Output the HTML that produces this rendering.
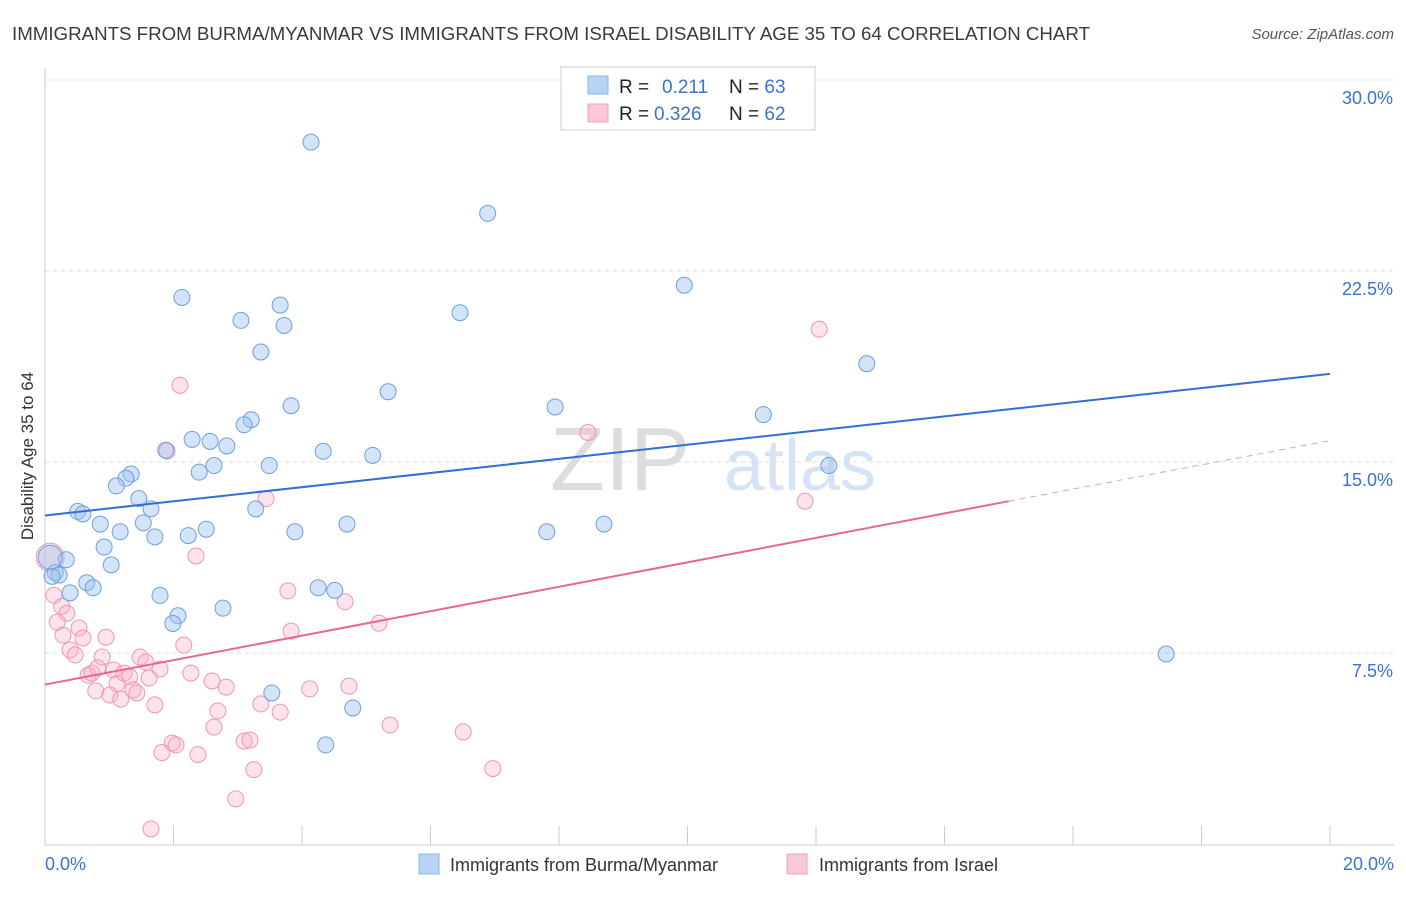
<!DOCTYPE html>
<html><head><meta charset="utf-8"><style>
body{margin:0;background:#fff;font-family:"Liberation Sans",sans-serif;}
svg text{font-family:"Liberation Sans",sans-serif;}
</style></head><body>
<svg id="chart" width="1406" height="892">
<text x="12" y="40" font-size="18" fill="#3a3a3a" textLength="1078" lengthAdjust="spacingAndGlyphs">IMMIGRANTS FROM BURMA/MYANMAR VS IMMIGRANTS FROM ISRAEL DISABILITY AGE 35 TO 64 CORRELATION CHART</text>
<text x="1394" y="39" font-size="15" fill="#555" font-style="italic" text-anchor="end">Source: ZipAtlas.com</text>
<text x="620" y="490" font-size="90" fill="#ddd" font-family="Liberation Serif" text-anchor="middle">ZIP</text>
<text x="800" y="490" font-size="72" fill="#d6e3f5" text-anchor="middle">atlas</text>
<text transform="translate(33,456) rotate(-90)" font-size="17" fill="#333" text-anchor="middle">Disability Age 35 to 64</text>
<g id="grid"></g><g id="pts"></g><g id="lines"></g>
<rect x="561" y="67" width="254" height="63" fill="#fff" stroke="#ccc"/>
<rect x="588" y="76" width="20" height="18" fill="#b9d3f5" stroke="#8db4ea"/>
<rect x="588" y="104" width="20" height="18" fill="#fbc8d8" stroke="#f2a0b9"/>
<text x="619" y="93" font-size="19" fill="#222">R = <tspan x="662" fill="#3b73d1">0.211</tspan><tspan x="729" fill="#222">N = </tspan><tspan fill="#3b73d1">63</tspan></text>
<text x="619" y="120" font-size="19" fill="#222">R = <tspan x="654" fill="#3b73d1">0.326</tspan><tspan x="729" fill="#222">N = </tspan><tspan fill="#3b73d1">62</tspan></text>
<text x="45" y="870" font-size="18" fill="#3b73d1">0.0%</text>
<text x="1394" y="870" font-size="18" fill="#3b73d1" text-anchor="end">20.0%</text>
<rect x="419" y="854" width="20" height="20" fill="#b9d3f5" stroke="#8db4ea"/>
<text x="450" y="871" font-size="18" fill="#333">Immigrants from Burma/Myanmar</text>
<rect x="787" y="854" width="20" height="20" fill="#fbc8d8" stroke="#f2a0b9"/>
<text x="819" y="871" font-size="18" fill="#333">Immigrants from Israel</text>
</svg>
<script>
const yTicks=[7.5,15,22.5,30];
const yTickLabels=["7.5%","15.0%","22.5%","30.0%"];
const burmaX=[4.14,6.89,9.95,2.13,3.66,6.46,3.05,3.72,3.36,12.79,5.34,3.83,7.94,11.18,3.21,3.10,2.29,2.57,2.83,1.88,4.33,5.10,3.49,2.63,2.40,12.20,1.34,1.26,1.11,1.46,1.65,0.51,0.59,3.28,0.86,1.53,4.70,8.70,2.51,1.17,3.89,7.81,1.71,2.23,0.92,0.33,1.03,0.16,0.22,0.11,0.65,0.75,4.25,4.51,0.39,1.79,2.07,1.99,2.77,17.45,3.53,4.79,4.37,0.08];
const burmaY=[27.6,24.8,21.98,21.5,21.2,20.9,20.6,20.4,19.36,18.9,17.8,17.25,17.2,16.9,16.7,16.5,15.93,15.85,15.67,15.5,15.46,15.3,14.9,14.9,14.64,14.9,14.57,14.4,14.1,13.6,13.2,13.1,13.0,13.2,12.6,12.65,12.6,12.6,12.4,12.3,12.3,12.3,12.1,12.15,11.7,11.2,11.0,10.7,10.6,10.55,10.3,10.1,10.1,10.0,9.9,9.8,9.0,8.7,9.3,7.5,5.97,5.38,3.93,11.3];
const israelX=[12.05,2.1,8.45,1.9,3.44,11.83,2.35,0.08,3.78,4.67,0.14,0.26,0.34,0.19,5.2,0.53,0.28,0.95,0.59,3.83,2.16,0.39,0.47,1.48,0.89,1.57,1.07,1.79,2.27,1.23,0.67,0.73,0.82,1.32,1.62,2.6,2.82,1.12,1.37,0.79,4.12,4.73,1.43,1.01,1.18,1.71,3.36,2.69,3.66,2.63,5.37,6.51,1.98,2.04,3.1,3.19,1.82,2.38,3.25,6.97,2.97,1.65];
const israelY=[20.25,18.05,16.2,15.47,13.6,13.5,11.35,11.3,9.98,9.55,9.8,9.37,9.1,8.75,8.71,8.52,8.24,8.16,8.13,8.4,7.85,7.66,7.46,7.38,7.38,7.18,6.87,6.91,6.75,6.75,6.67,6.75,6.95,6.6,6.56,6.44,6.2,6.33,6.09,6.05,6.13,6.24,5.97,5.89,5.73,5.5,5.54,5.26,5.22,4.63,4.71,4.44,4.0,3.93,4.08,4.12,3.63,3.55,2.96,3.0,1.81,0.63];
const trendBurma=[12.94,18.5];
const trendIsrael=[6.3,13.5,15.88];
const X0=45,X1=1330,Y0=845,PX=191/7.5;
const sx=v=>X0+(v/20)*(X1-X0);
const sy=v=>Y0-v*PX;
const NS="http://www.w3.org/2000/svg";
function mk(tag,attrs,parent){const e=document.createElementNS(NS,tag);for(const k in attrs)e.setAttribute(k,attrs[k]);parent.appendChild(e);return e;}
const grid=document.getElementById('grid'),pts=document.getElementById('pts'),lines=document.getElementById('lines');
yTicks.forEach((t,i)=>{
  const l=mk('line',{x1:X0,x2:1394,y1:sy(t)-1,y2:sy(t)-1,stroke:'#ddd','stroke-dasharray':'4,4'},grid);
  
  
  const tx=mk('text',{x:1393,y:sy(t)+23,'font-size':18,fill:'#3b73d1','text-anchor':'end'},grid);
  tx.textContent=yTickLabels[i];
  
  
});
const ax=mk('line',{x1:X0,x2:X0,y1:68,y2:Y0,stroke:'#ccc'},grid);


const bx=mk('line',{x1:X0,x2:1394,y1:Y0,y2:Y0,stroke:'#ccc'},grid);


for(let i=0;i<=10;i++){const t=mk('line',{x1:sx(i*2),x2:sx(i*2),y1:826,y2:Y0,stroke:'#ccc'},grid);

}
israelX.forEach((x,i)=>{const c=mk('circle',{cx:sx(x),cy:sy(israelY[i]),r:i==7?14:8,fill:'rgba(248,176,200,0.35)',stroke:'#f096b4','stroke-width':1},pts);

});
burmaX.forEach((x,i)=>{const c=mk('circle',{cx:sx(x),cy:sy(burmaY[i]),r:i==63?12:8,fill:'rgba(160,196,240,0.45)',stroke:'#6e9fe0','stroke-width':1},pts);

});
const bl=mk('line',{x1:sx(0),y1:sy(trendBurma[0]),x2:sx(20),y2:sy(trendBurma[1]),stroke:'#2f6fd6','stroke-width':2},lines);


const il=mk('line',{x1:sx(0),y1:sy(trendIsrael[0]),x2:sx(15),y2:sy(trendIsrael[1]),stroke:'#e8668f','stroke-width':2},lines);


const id=mk('line',{x1:sx(15),y1:sy(trendIsrael[1]),x2:sx(20),y2:sy(trendIsrael[2]),stroke:'#e8a0b8','stroke-width':1,'stroke-dasharray':'6,5'},lines);


</script>
</body></html>
